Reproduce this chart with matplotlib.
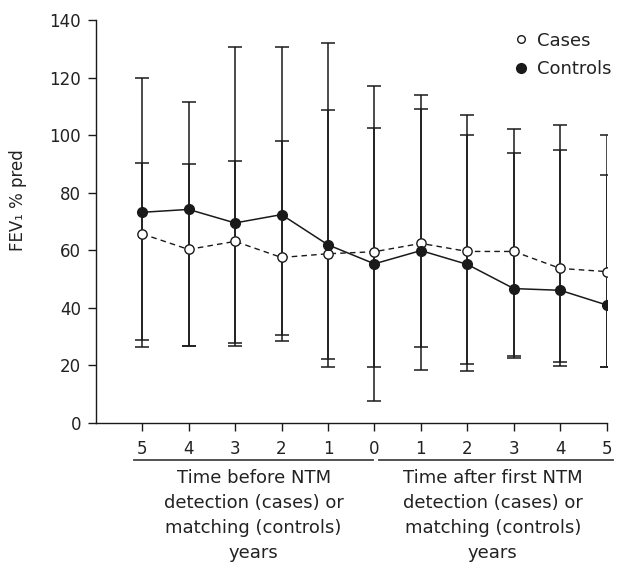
import matplotlib
matplotlib.use("Agg")
import matplotlib.pyplot as plt
from matplotlib.lines import Line2D
from matplotlib.transforms import blended_transform_factory

plt.rcParams['font.family'] = ['DejaVu Sans']

# ---- data ----
positions = [0, 1, 2, 3, 4, 5, 6, 7, 8, 9, 10]
tick_labels = ['5', '4', '3', '2', '1', '0', '1', '2', '3', '4', '5']

cases = [65.7, 60.3, 63.1, 57.5, 58.8, 59.5, 62.4, 59.6, 59.6, 53.7, 52.6]
controls = [73.2, 74.2, 69.5, 72.4, 61.9, 55.3, 59.9, 55.1, 46.7, 46.1, 41.0]

cases_upper = [90.4, 90.0, 91.0, 98.1, 108.8, 117.0, 109.0, 100.1, 93.7, 94.9, 86.0]
cases_lower = [28.9, 26.7, 27.7, 30.5, 22.3, 19.6, 26.4, 20.6, 23.3, 21.2, 19.5]
controls_upper = [119.7, 111.6, 130.7, 130.7, 131.9, 102.6, 113.8, 107.1, 102.0, 103.7, 100.1]
controls_lower = [26.5, 26.7, 26.7, 28.4, 19.6, 7.6, 18.3, 18.0, 22.5, 19.8, 19.5]

before_label = "Time before NTM\ndetection (cases) or\nmatching (controls)\nyears"
after_label = "Time after first NTM\ndetection (cases) or\nmatching (controls)\nyears"

# ---- figure ----
fig = plt.figure(figsize=(6.17, 5.64), dpi=100)
ax = fig.add_axes([0.1551, 0.25, 0.9833 - 0.1551, 0.9645 - 0.25])

ink = '#1a1a1a'
text_ink = '#222222'

def errs(vals, lo, hi):
    return [[v - l for v, l in zip(vals, lo)], [h - v for v, h in zip(vals, hi)]]

ax.errorbar(positions, controls, yerr=errs(controls, controls_lower, controls_upper),
            fmt='none', ecolor=ink, elinewidth=1.1, capsize=4.7, capthick=1.1, zorder=2)
ax.errorbar(positions, cases, yerr=errs(cases, cases_lower, cases_upper),
            fmt='none', ecolor=ink, elinewidth=1.1, capsize=4.7, capthick=1.1, zorder=2)

ax.plot(positions, cases, linestyle=(0, (4, 3)), color=ink, linewidth=1.0,
        marker='o', markersize=6.7, markerfacecolor='white', markeredgecolor=ink,
        markeredgewidth=1.0, zorder=3)
ax.plot(positions, controls, linestyle='-', color=ink, linewidth=1.1,
        marker='o', markersize=7.0, markerfacecolor=ink, markeredgecolor=ink, zorder=4)

ax.set_xlim(-1, 10)
ax.set_ylim(0, 140)
ax.set_yticks([0, 20, 40, 60, 80, 100, 120, 140])
ax.set_xticks(positions)
ax.set_xticklabels(tick_labels)

for s in ['top', 'right']:
    ax.spines[s].set_visible(False)
for s in ['left', 'bottom']:
    ax.spines[s].set_linewidth(1.0)
    ax.spines[s].set_color(ink)

ax.tick_params(axis='both', direction='out', length=5.5, width=1.0, color=ink,
               labelsize=12, labelcolor=text_ink)
ax.tick_params(axis='x', pad=6.5)
ax.tick_params(axis='y', pad=5)

fig.text(18 / 617, 1 - 200 / 564, 'FEV\u2081 % pred', rotation=90, ha='center', va='center',
         fontsize=12, color=text_ink)

# legend
handles = [Line2D([], [], linestyle='none', marker='o', markersize=5.5, markerfacecolor='white',
                  markeredgecolor=ink, markeredgewidth=1.0),
           Line2D([], [], linestyle='none', marker='o', markersize=7, markerfacecolor=ink,
                  markeredgecolor=ink)]
leg = ax.legend(handles, ['Cases', 'Controls'], loc='upper left',
                bbox_to_anchor=(513.5 / 617, 1 - 31.5 / 564), bbox_transform=fig.transFigure,
                frameon=False, fontsize=13, handlelength=0.8, handletextpad=0.5,
                labelspacing=0.6, borderpad=0, borderaxespad=0)
for t in leg.get_texts():
    t.set_color(text_ink)

# group brackets below x axis
trans = blended_transform_factory(ax.transData, ax.transAxes)
y_line = (423 - 460) / 403
ax.plot([-0.17, 4.97], [y_line, y_line], transform=trans, color='#444444', linewidth=1.3,
        clip_on=False)
ax.plot([5.1, 10.13], [y_line, y_line], transform=trans, color='#444444', linewidth=1.3,
        clip_on=False)

y_text = (423 - 469) / 403
ax.text(2.4, y_text, before_label, transform=trans, ha='center', va='top', fontsize=13,
        linespacing=1.5, color=text_ink)
ax.text(7.55, y_text, after_label, transform=trans, ha='center', va='top', fontsize=13,
        linespacing=1.5, color=text_ink)

fig.savefig('out.png', dpi=100)
